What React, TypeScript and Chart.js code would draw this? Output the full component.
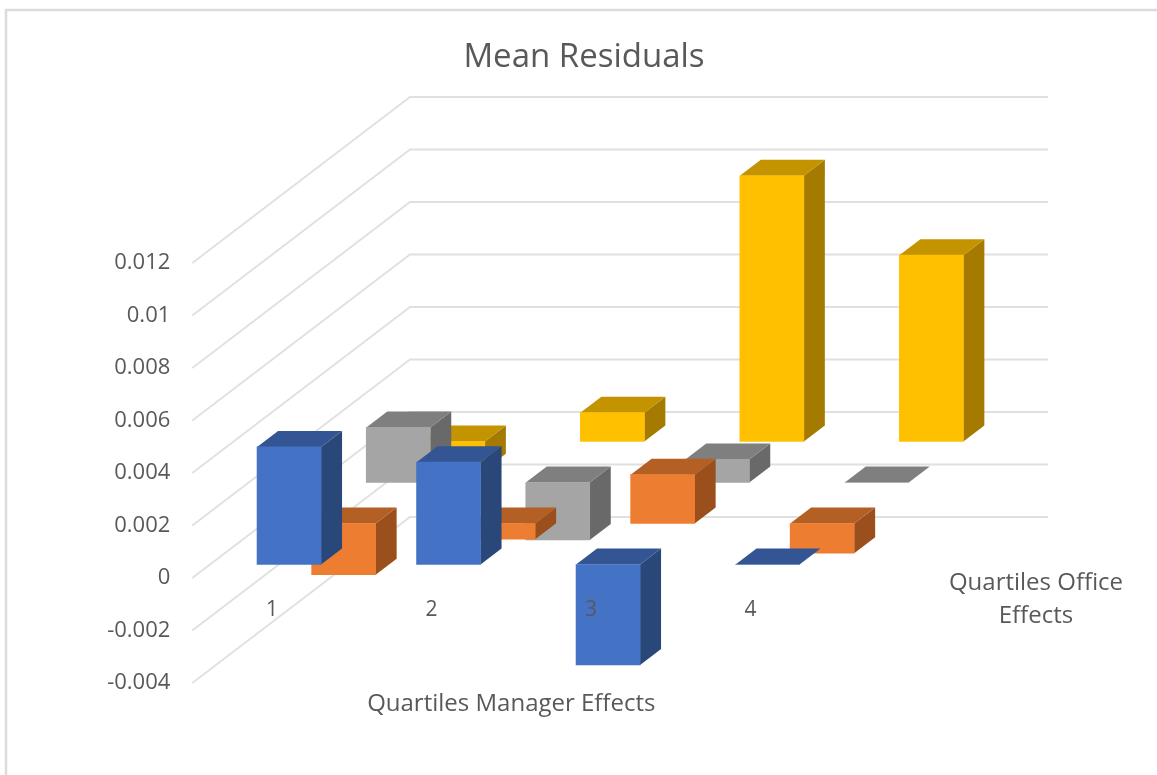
import React, { useEffect, useRef } from "react";
import { Chart, registerables } from "chart.js";

Chart.register(...registerables);

const categories = ["1", "2", "3", "4"];
const seriesNames = ["Q1", "Q2", "Q3", "Q4"];
const blueValues = [0.00448, 0.0039, -0.00383, 0];
const orangeValues = [-0.00195, -0.0006, 0.00186, -0.00113];
const grayValues = [0.0021, -0.00219, 0.00088, 0];
const yellowValues = [-0.00108, 0.0011, 0.01012, 0.0071];
const titleText = "Mean Residuals";
const xTitle = "Quartiles Manager Effects";
const depthTitle = ["Quartiles Office", "Effects"];

const FONT = "'Open Sans', sans-serif";
const TEXT = "#595959";
const GRID = "#e0e0e0";
const faces = [
  { front: "#4472C4", top: "#335593", side: "#2A4779" },
  { front: "#ED7D31", top: "#B45F23", side: "#9A4F1C" },
  { front: "#A5A5A5", top: "#7F7F7F", side: "#696969" },
  { front: "#FFC000", top: "#C39300", side: "#A47B00" },
];
const rowDx = (i: number) => 17 + 54.6 * i;
const rowDy = (i: number) => -13.5 - 41 * i;
const SIDE_DX = 21;
const SIDE_DY = -16;
const WALL_DX = 217.7;
const WALL_DY = -166;
const WALL_END = 1048;

const poly = (ctx: CanvasRenderingContext2D, pts: number[][], fill: string) => {
  ctx.beginPath();
  pts.forEach(([x, y], i) => (i ? ctx.lineTo(x, y) : ctx.moveTo(x, y)));
  ctx.closePath();
  ctx.fillStyle = fill;
  ctx.fill();
};

const depthPlugin = {
  id: "depth",
  beforeDatasetsDraw(chart: any) {
    const { ctx, scales, chartArea } = chart;
    ctx.save();
    // outer frame
    ctx.strokeStyle = "#dcdcdc";
    ctx.lineWidth = 2.5;
    ctx.beginPath();
    ctx.moveTo(6, 775);
    ctx.lineTo(6, 10);
    ctx.lineTo(1157, 10);
    ctx.stroke();
    // floor/side and back wall grid
    ctx.strokeStyle = GRID;
    ctx.lineWidth = 1.8;
    scales.y.ticks.forEach((t: any) => {
      const y = scales.y.getPixelForValue(t.value);
      ctx.beginPath();
      ctx.moveTo(chartArea.left, y);
      ctx.lineTo(chartArea.left + WALL_DX, y + WALL_DY);
      ctx.lineTo(WALL_END, y + WALL_DY);
      ctx.stroke();
    });
    ctx.restore();
  },
  beforeDatasetDraw(chart: any, args: any) {
    const { ctx } = chart;
    const i = args.index;
    const c = faces[i];
    ctx.save();
    ctx.translate(rowDx(i), rowDy(i));
    args.meta.data.forEach((el: any) => {
      const hw = el.width / 2;
      const l = el.x - hw;
      const r = el.x + hw;
      const t = Math.min(el.y, el.base);
      const b = Math.max(el.y, el.base);
      poly(ctx, [[r, t], [r + SIDE_DX, t + SIDE_DY], [r + SIDE_DX, b + SIDE_DY], [r, b]], c.side);
      poly(ctx, [[l, t], [l + SIDE_DX, t + SIDE_DY], [r + SIDE_DX, t + SIDE_DY], [r, t]], c.top);
    });
  },
  afterDatasetDraw(chart: any) {
    chart.ctx.restore();
  },
  afterDraw(chart: any) {
    const { ctx } = chart;
    ctx.save();
    ctx.font = `24px ${FONT}`;
    ctx.fillStyle = TEXT;
    ctx.textAlign = "center";
    ctx.textBaseline = "middle";
    ctx.fillText(depthTitle[0], 1036, 583);
    ctx.fillText(depthTitle[1], 1036, 616);
    ctx.restore();
  },
};

export default function App() {
  const ref = useRef<HTMLCanvasElement>(null);
  useEffect(() => {
    const all = [blueValues, orangeValues, grayValues, yellowValues];
    const chart = new Chart(ref.current!, {
      type: "bar",
      plugins: [depthPlugin],
      data: {
        labels: categories,
        datasets: all.map((data, i) => ({
          label: seriesNames[i],
          data,
          backgroundColor: faces[i].front,
          borderWidth: 0,
          barThickness: 64,
          grouped: false,
          clip: false,
        })) as any,
      },
      options: {
        animation: false,
        responsive: false,
        layout: { padding: { left: 11, right: 0, top: 0, bottom: 92 } },
        plugins: {
          legend: { display: false },
          tooltip: { enabled: false },
          title: {
            display: true,
            text: titleText,
            color: TEXT,
            font: { family: FONT, size: 33, weight: "normal" },
            padding: { top: 38, bottom: 185.4 },
          },
        },
        scales: {
          x: {
            position: { y: 0 },
            grid: { display: false, drawTicks: false },
            border: { display: false },
            ticks: { color: TEXT, font: { family: FONT, size: 21 }, padding: 19, z: 1 },
            title: {
              display: true,
              text: xTitle,
              color: TEXT,
              font: { family: FONT, size: 24 },
              padding: { top: 49, bottom: 4 },
            },
          },
          y: {
            min: -0.004,
            max: 0.012,
            grid: { display: false, drawTicks: false },
            border: { display: false },
            ticks: {
              stepSize: 0.002,
              color: TEXT,
              font: { family: FONT, size: 22 },
              padding: 22,
              callback: (v: any) => String(+Number(v).toFixed(3)),
            },
            afterFit: (s: any) => {
              s.width = 181.3;
            },
          },
          y2: {
            position: "right",
            grid: { display: false, drawTicks: false },
            border: { display: false },
            ticks: { display: false },
            afterFit: (s: any) => {
              s.width = 326.7;
            },
          },
        },
      } as any,
    });
    return () => chart.destroy();
  }, []);
  return (
    <canvas
      ref={ref}
      width={1157}
      height={775}
      style={{ position: "absolute", left: 0, top: 0, display: "block" }}
    />
  );
}
